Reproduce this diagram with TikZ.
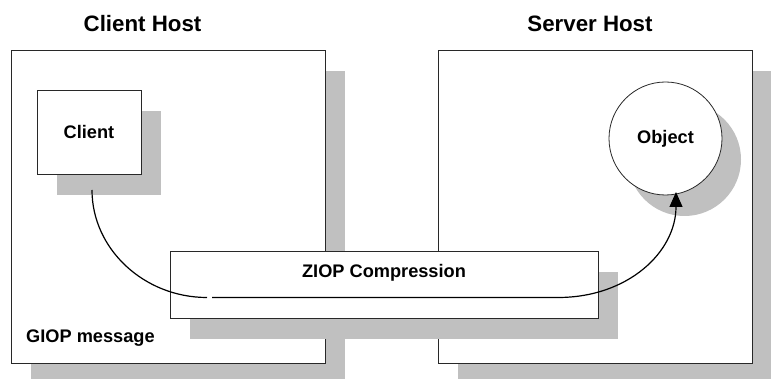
\documentclass[tikz,border=0pt]{standalone}
\usepackage{fontspec}
\setmainfont{Liberation Sans}
\usetikzlibrary{arrows.meta,shadows}
\definecolor{shadowgray}{RGB}{192,192,192}
\definecolor{edgegray}{RGB}{40,40,40}
\begin{document}
\begin{tikzpicture}[x=1pt,y=-1pt,
  boxshadow/.style={general shadow={fill=shadowgray, shadow xshift=20pt, shadow yshift=-21pt}},
  hostbox/.style={draw=edgegray, line width=0.8pt, fill=white, rectangle, minimum width=314pt, minimum height=313pt, inner sep=0pt, boxshadow},
  innerbox/.style={draw=edgegray, line width=0.8pt, fill=white, rectangle, inner sep=0pt, boxshadow},
  objcircle/.style={draw=edgegray, line width=0.8pt, fill=white, circle, minimum size=113pt, inner sep=0pt,
     general shadow={fill=shadowgray, shadow xshift=19pt, shadow yshift=-21pt}},
  title/.style={font=\bfseries\fontsize{22.3}{26}\selectfont, anchor=base, inner sep=0pt},
  lbl/.style={font=\bfseries\fontsize{18.2}{22}\selectfont, inner sep=0pt},
  flow/.style={line width=1.2pt, black}
]
\useasboundingbox (0,0) rectangle (771,379);
% host boxes
\node[hostbox] (clienthost) at (168,206.5) {};
\node[hostbox] (serverhost) at (595,206.5) {};
% client and object
\node[innerbox, minimum width=104pt, minimum height=84pt, lbl] (client) at (89,132) {Client};
\node[objcircle, lbl] (object) at (665.5,138.5) {Object};
% ZIOP box
\node[innerbox, minimum width=428pt, minimum height=67pt] (ziop) at (384,284.5) {};
\node[lbl, anchor=base] (ziopl) at (384,278) {ZIOP Compression};
% titles
\node[title] (cht) at (142.5,32) {Client Host};
\node[title] (sht) at (590,32) {Server Host};
\node[lbl, anchor=base west] (giop) at (26,342) {GIOP message};
% connector
\coordinate (c0) at (92,190);
\coordinate (c1) at (207,297.5);
\coordinate (c2) at (212,297.5);
\coordinate (c3) at (558,297.5);
\coordinate (c4) at (676,192);
\draw[flow] (c0) .. controls (92,249) and (144,297.5) .. (c1);
\draw[flow, -{Triangle[length=15pt,width=13pt]}] (c2) -- (c3) .. controls (628,297.5) and (676,252) .. (c4);
\end{tikzpicture}
\end{document}
